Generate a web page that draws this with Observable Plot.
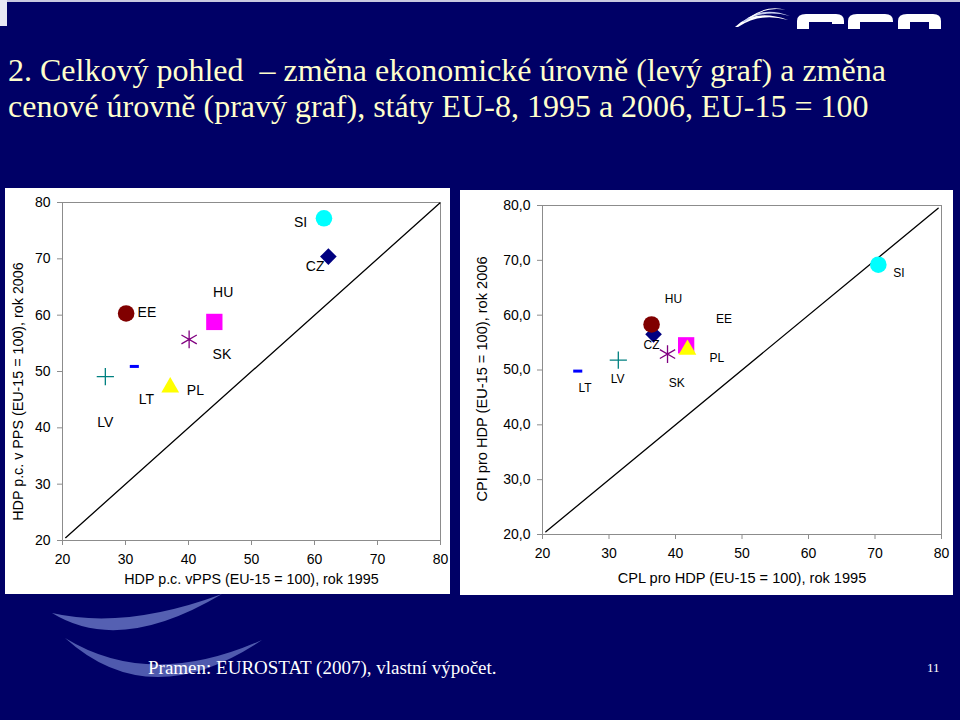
<!DOCTYPE html>
<html><head><meta charset="utf-8">
<script src="https://cdn.jsdelivr.net/npm/d3@7"></script>
<script src="https://cdn.jsdelivr.net/npm/@observablehq/plot@0.6"></script>
<style>
html,body{margin:0;padding:0;}
body{width:960px;height:720px;background:#000066;position:relative;overflow:hidden;font-family:"Liberation Sans",Arial,sans-serif;}
#deco{position:absolute;left:0;top:0;}
#title{position:absolute;left:8px;top:52px;color:#ffffcc;font-family:"Liberation Serif","Times New Roman",serif;font-size:32px;line-height:36px;white-space:nowrap;}
.panel{position:absolute;background:#fff;}
.panel svg{display:block;}
#left{left:5px;top:188px;width:445px;height:406px;}
#right{left:460px;top:190px;width:493px;height:405px;}
#source{position:absolute;left:148px;top:657px;color:#ffffff;font-family:"Liberation Serif","Times New Roman",serif;font-size:19px;white-space:nowrap;}
#page{position:absolute;left:927px;top:660px;color:#ffffff;font-family:"Liberation Serif","Times New Roman",serif;font-size:13px;}
</style></head>
<body>
<svg id="deco" width="960" height="720">
  <rect x="0" y="0" width="960" height="2" fill="#c8c8e0"/>
  <rect x="0" y="0" width="7" height="26" fill="#e8e8f4"/>
  <!-- logo -->
  <path d="M735,27 Q755,8 788,20 Q760,12 738,27 Z" fill="#ffffff"/>
  <path d="M742,22 Q762,5 790,16 Q762,9 745,22 Z" fill="#c8d0f0"/>
  <path d="M748,18 Q768,4 786,10 Q766,6 751,18 Z" fill="#ffffff"/>
  <path d="M797,29 L797,21 Q797,14 806,14 L836,14 Q844,14 844,21 L844,24 L832,24 L832,22 L809,22 L809,29 Z" fill="#ffffff"/>
  <path d="M848,29 L848,21 Q848,14 857,14 L885,14 Q893,14 893,21 L893,22 L860,22 L860,29 Z" fill="#ffffff"/>
  <path d="M898,29 L898,21 Q898,14 907,14 L933,14 Q941,14 941,21 L941,29 L929,29 L929,22 L910,22 L910,29 Z" fill="#ffffff"/>
  <!-- swoosh -->
  <path d="M52,613 Q120,655 222,594 Q125,630 52,613 Z" fill="#5560b2"/>
  <path d="M65,638 Q150,715 262,640 Q150,690 65,638 Z" fill="#4f5aae"/>
</svg>
<div id="title">2. Celkový pohled &nbsp;– změna ekonomické úrovně (levý graf) a změna<br>cenové úrovně (pravý graf), státy EU-8, 1995 a 2006, EU-15 = 100</div>
<div class="panel" id="left"></div>
<div class="panel" id="right"></div>
<div id="source">Pramen: EUROSTAT (2007), vlastní výpočet.</div>
<div id="page">11</div>
<script>
// ---------- data ----------
const countries = ["CZ", "EE", "HU", "LT", "LV", "PL", "SI", "SK"];

// left chart: HDP p.c. v PPS, 1995 (x) vs 2006 (y)
const gdp1995 = [62.2, 30.1, 44.1, 31.4, 26.8, 37.1, 61.5, 40.1];
const gdp2006 = [70.4, 60.3, 58.8, 50.9, 49.1, 47.2, 77.2, 55.7];
const gdpLabelX = [60.1, 33.4, 45.5, 33.3, 26.8, 41.1, 57.8, 45.3];
const gdpLabelY = [68.6, 60.5, 64.0, 45.1, 40.9, 46.6, 76.5, 53.1];

// right chart: CPL pro HDP, 1995 (x) vs 2006 (y)
const cpl1995 = [36.7, 36.4, 41.6, 25.3, 31.4, 41.8, 70.5, 38.8];
const cpl2006 = [56.5, 58.3, 54.5, 49.8, 51.8, 53.7, 69.2, 52.9];
const cplLabelX = [36.4, 47.3, 39.7, 26.4, 31.3, 46.2, 73.6, 40.2];
const cplLabelY = [54.5, 59.2, 63.0, 46.7, 48.4, 52.2, 67.6, 47.6];

// 45-degree reference lines
const diagLeft = [20.5, 79.9];
const diagRight = [20.5, 79.5];

const xTicks = [20, 30, 40, 50, 60, 70, 80];
const yTicks = [20, 30, 40, 50, 60, 70, 80];

const xTitleLeft = "HDP p.c. vPPS (EU-15 = 100), rok 1995";
const yTitleLeft = "HDP p.c. v PPS (EU-15 = 100), rok 2006";
const xTitleRight = "CPL pro HDP (EU-15 = 100), rok 1995";
const yTitleRight = "CPI pro HDP (EU-15 = 100), rok 2006";

// ---------- marker styles ----------
const dash = {draw(context, size) { const w = Math.sqrt(size) * 0.32; context.moveTo(-w, 0); context.lineTo(w, 0); }};
const markerStyle = {
  CZ: {symbol: "diamond2", fill: "#000080", r: 7.5},
  EE: {symbol: "circle", fill: "#800000", r: 8.3},
  HU: {symbol: "square", fill: "#ff00ff", r: 9.2},
  LT: {symbol: dash, stroke: "#0000ff", r: 8, strokeWidth: 3},
  LV: {symbol: "plus", stroke: "#008080", r: 5.6, strokeWidth: 1.3},
  PL: {symbol: "triangle", fill: "#ffff00", r: 6.6},
  SI: {symbol: "circle", fill: "#00ffff", r: 8.3},
  SK: {symbol: "asterisk", stroke: "#800080", r: 8.4, strokeWidth: 1.3}
};

function markers(xs, ys) {
  return countries.map((c, i) => {
    const s = markerStyle[c];
    return Plot.dot([i], {
      x: j => xs[j], y: j => ys[j], symbol: s.symbol, r: s.r,
      fill: s.fill || "none", stroke: s.stroke || "none", strokeWidth: s.strokeWidth || 1
    });
  });
}

const idx = countries.map((_, i) => i);
const comma1 = d => d3.format(".1f")(d).replace(".", ",");

function chart(cfg) {
  return Plot.plot({
    width: cfg.width, height: cfg.height,
    marginLeft: cfg.ml, marginRight: cfg.mr, marginTop: cfg.mt, marginBottom: cfg.mb,
    x: {domain: [20, 80]}, y: {domain: [20, 80]},
    style: {fontFamily: "'Liberation Sans', Arial, sans-serif", background: "transparent", color: "#000", overflow: "visible"},
    marks: [
      Plot.frame({stroke: "#8c8c8c"}),
      Plot.axisX({ticks: xTicks, tickSize: 5, tickPadding: cfg.xPad, stroke: "#8c8c8c", fill: "#000", fontSize: cfg.tickFont, label: null}),
      Plot.axisY({ticks: yTicks, tickSize: 5, tickPadding: cfg.yPad, stroke: "#8c8c8c", fill: "#000", fontSize: cfg.tickFont, label: null, tickFormat: cfg.yFormat}),
      Plot.line(cfg.diag.map((_, i) => i), {x: i => cfg.diag[i], y: i => cfg.diag[i], stroke: "#000", strokeWidth: 1.3}),
      ...markers(cfg.xs, cfg.ys),
      Plot.text(idx, {x: i => cfg.lx[i], y: i => cfg.ly[i], text: i => countries[i], fontSize: cfg.labelFont, fill: "#000"}),
      Plot.text([cfg.xTitle], {frameAnchor: "bottom", textAnchor: "middle", dy: cfg.xTitleDy, fontSize: cfg.titleFont, fill: "#000"}),
      Plot.text([cfg.yTitle], {frameAnchor: "left", textAnchor: "middle", lineAnchor: "middle", dx: cfg.yTitleDx, dy: cfg.yTitleDy, rotate: -90, fontSize: cfg.titleFont, fill: "#000"})
    ]
  });
}

document.getElementById("left").appendChild(chart({
  width: 445, height: 406, ml: 57, mr: 10, mt: 14, mb: 54,
  xs: gdp1995, ys: gdp2006, lx: gdpLabelX, ly: gdpLabelY, diag: diagLeft,
  xPad: 9, yPad: 7, tickFont: 14, labelFont: 14, titleFont: 14.3,
  xTitle: xTitleLeft, yTitle: yTitleLeft, xTitleDy: 43, yTitleDx: -44, yTitleDy: 20, yFormat: d => d
}));

document.getElementById("right").appendChild(chart({
  width: 493, height: 405, ml: 82, mr: 12, mt: 15, mb: 61,
  xs: cpl1995, ys: cpl2006, lx: cplLabelX, ly: cplLabelY, diag: diagRight,
  xPad: 9, yPad: 7, tickFont: 14, labelFont: 12, titleFont: 14.6,
  xTitle: xTitleRight, yTitle: yTitleRight, xTitleDy: 48, yTitleDx: -60, yTitleDy: 9, yFormat: comma1
}));
</script>
</body></html>
